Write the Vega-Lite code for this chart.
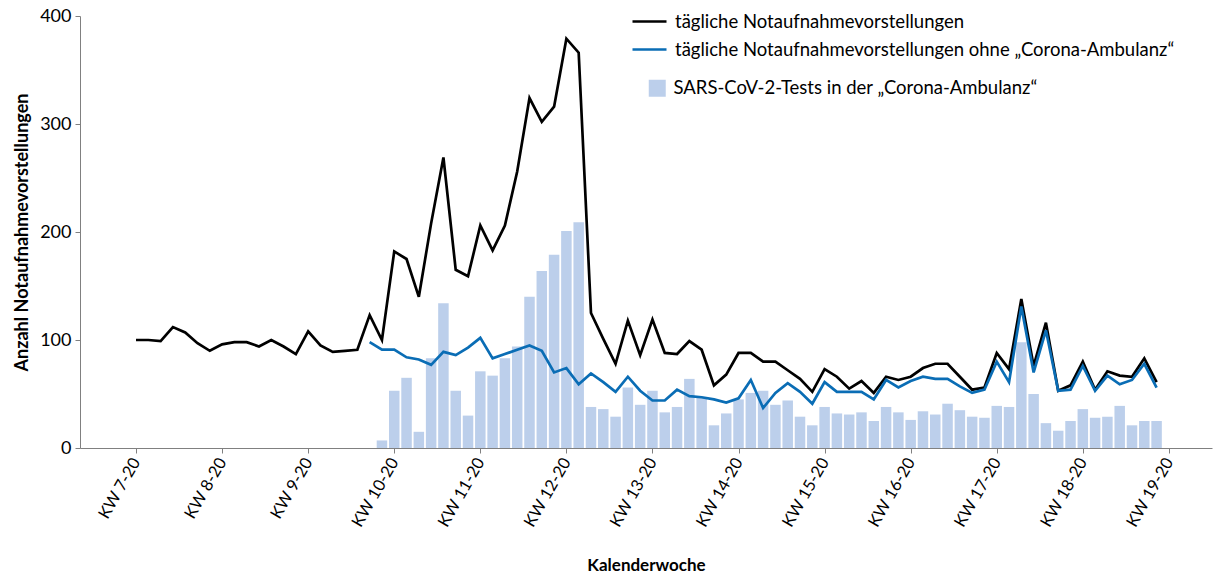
{
  "$schema": "https://vega.github.io/schema/vega-lite/v6.json",
  "width": 1132,
  "height": 432,
  "autosize": "none",
  "padding": {"left": 80, "top": 16, "right": 2, "bottom": 129},
  "config": {
    "view": {"stroke": null},
    "font": "Lato",
    "axis": {"domainColor": "#808080", "tickColor": "#808080", "labelColor": "#000", "titleColor": "#000", "grid": false}
  },
  "datasets": {
    "lines": [
      {"day":0,"serie":"tägliche Notaufnahmevorstellungen","n":100},
      {"day":1,"serie":"tägliche Notaufnahmevorstellungen","n":100},
      {"day":2,"serie":"tägliche Notaufnahmevorstellungen","n":99},
      {"day":3,"serie":"tägliche Notaufnahmevorstellungen","n":112},
      {"day":4,"serie":"tägliche Notaufnahmevorstellungen","n":107},
      {"day":5,"serie":"tägliche Notaufnahmevorstellungen","n":97},
      {"day":6,"serie":"tägliche Notaufnahmevorstellungen","n":90},
      {"day":7,"serie":"tägliche Notaufnahmevorstellungen","n":96},
      {"day":8,"serie":"tägliche Notaufnahmevorstellungen","n":98},
      {"day":9,"serie":"tägliche Notaufnahmevorstellungen","n":98},
      {"day":10,"serie":"tägliche Notaufnahmevorstellungen","n":94},
      {"day":11,"serie":"tägliche Notaufnahmevorstellungen","n":100},
      {"day":12,"serie":"tägliche Notaufnahmevorstellungen","n":94},
      {"day":13,"serie":"tägliche Notaufnahmevorstellungen","n":87},
      {"day":14,"serie":"tägliche Notaufnahmevorstellungen","n":108},
      {"day":15,"serie":"tägliche Notaufnahmevorstellungen","n":95},
      {"day":16,"serie":"tägliche Notaufnahmevorstellungen","n":89},
      {"day":17,"serie":"tägliche Notaufnahmevorstellungen","n":90},
      {"day":18,"serie":"tägliche Notaufnahmevorstellungen","n":91},
      {"day":19,"serie":"tägliche Notaufnahmevorstellungen","n":123},
      {"day":20,"serie":"tägliche Notaufnahmevorstellungen","n":100},
      {"day":21,"serie":"tägliche Notaufnahmevorstellungen","n":182},
      {"day":22,"serie":"tägliche Notaufnahmevorstellungen","n":175},
      {"day":23,"serie":"tägliche Notaufnahmevorstellungen","n":140},
      {"day":24,"serie":"tägliche Notaufnahmevorstellungen","n":208},
      {"day":25,"serie":"tägliche Notaufnahmevorstellungen","n":269},
      {"day":26,"serie":"tägliche Notaufnahmevorstellungen","n":165},
      {"day":27,"serie":"tägliche Notaufnahmevorstellungen","n":159},
      {"day":28,"serie":"tägliche Notaufnahmevorstellungen","n":206},
      {"day":29,"serie":"tägliche Notaufnahmevorstellungen","n":183},
      {"day":30,"serie":"tägliche Notaufnahmevorstellungen","n":206},
      {"day":31,"serie":"tägliche Notaufnahmevorstellungen","n":256},
      {"day":32,"serie":"tägliche Notaufnahmevorstellungen","n":324},
      {"day":33,"serie":"tägliche Notaufnahmevorstellungen","n":302},
      {"day":34,"serie":"tägliche Notaufnahmevorstellungen","n":316},
      {"day":35,"serie":"tägliche Notaufnahmevorstellungen","n":379},
      {"day":36,"serie":"tägliche Notaufnahmevorstellungen","n":366},
      {"day":37,"serie":"tägliche Notaufnahmevorstellungen","n":125},
      {"day":38,"serie":"tägliche Notaufnahmevorstellungen","n":101},
      {"day":39,"serie":"tägliche Notaufnahmevorstellungen","n":78},
      {"day":40,"serie":"tägliche Notaufnahmevorstellungen","n":118},
      {"day":41,"serie":"tägliche Notaufnahmevorstellungen","n":86},
      {"day":42,"serie":"tägliche Notaufnahmevorstellungen","n":119},
      {"day":43,"serie":"tägliche Notaufnahmevorstellungen","n":88},
      {"day":44,"serie":"tägliche Notaufnahmevorstellungen","n":87},
      {"day":45,"serie":"tägliche Notaufnahmevorstellungen","n":99},
      {"day":46,"serie":"tägliche Notaufnahmevorstellungen","n":91},
      {"day":47,"serie":"tägliche Notaufnahmevorstellungen","n":58},
      {"day":48,"serie":"tägliche Notaufnahmevorstellungen","n":68},
      {"day":49,"serie":"tägliche Notaufnahmevorstellungen","n":88},
      {"day":50,"serie":"tägliche Notaufnahmevorstellungen","n":88},
      {"day":51,"serie":"tägliche Notaufnahmevorstellungen","n":80},
      {"day":52,"serie":"tägliche Notaufnahmevorstellungen","n":80},
      {"day":53,"serie":"tägliche Notaufnahmevorstellungen","n":72},
      {"day":54,"serie":"tägliche Notaufnahmevorstellungen","n":64},
      {"day":55,"serie":"tägliche Notaufnahmevorstellungen","n":52},
      {"day":56,"serie":"tägliche Notaufnahmevorstellungen","n":73},
      {"day":57,"serie":"tägliche Notaufnahmevorstellungen","n":66},
      {"day":58,"serie":"tägliche Notaufnahmevorstellungen","n":55},
      {"day":59,"serie":"tägliche Notaufnahmevorstellungen","n":62},
      {"day":60,"serie":"tägliche Notaufnahmevorstellungen","n":51},
      {"day":61,"serie":"tägliche Notaufnahmevorstellungen","n":66},
      {"day":62,"serie":"tägliche Notaufnahmevorstellungen","n":63},
      {"day":63,"serie":"tägliche Notaufnahmevorstellungen","n":66},
      {"day":64,"serie":"tägliche Notaufnahmevorstellungen","n":74},
      {"day":65,"serie":"tägliche Notaufnahmevorstellungen","n":78},
      {"day":66,"serie":"tägliche Notaufnahmevorstellungen","n":78},
      {"day":67,"serie":"tägliche Notaufnahmevorstellungen","n":66},
      {"day":68,"serie":"tägliche Notaufnahmevorstellungen","n":54},
      {"day":69,"serie":"tägliche Notaufnahmevorstellungen","n":56},
      {"day":70,"serie":"tägliche Notaufnahmevorstellungen","n":88},
      {"day":71,"serie":"tägliche Notaufnahmevorstellungen","n":73},
      {"day":72,"serie":"tägliche Notaufnahmevorstellungen","n":138},
      {"day":73,"serie":"tägliche Notaufnahmevorstellungen","n":76},
      {"day":74,"serie":"tägliche Notaufnahmevorstellungen","n":116},
      {"day":75,"serie":"tägliche Notaufnahmevorstellungen","n":53},
      {"day":76,"serie":"tägliche Notaufnahmevorstellungen","n":58},
      {"day":77,"serie":"tägliche Notaufnahmevorstellungen","n":80},
      {"day":78,"serie":"tägliche Notaufnahmevorstellungen","n":54},
      {"day":79,"serie":"tägliche Notaufnahmevorstellungen","n":71},
      {"day":80,"serie":"tägliche Notaufnahmevorstellungen","n":67},
      {"day":81,"serie":"tägliche Notaufnahmevorstellungen","n":66},
      {"day":82,"serie":"tägliche Notaufnahmevorstellungen","n":83},
      {"day":83,"serie":"tägliche Notaufnahmevorstellungen","n":61},
      {"day":19,"serie":"tägliche Notaufnahmevorstellungen ohne „Corona-Ambulanz“","n":98},
      {"day":20,"serie":"tägliche Notaufnahmevorstellungen ohne „Corona-Ambulanz“","n":91},
      {"day":21,"serie":"tägliche Notaufnahmevorstellungen ohne „Corona-Ambulanz“","n":91},
      {"day":22,"serie":"tägliche Notaufnahmevorstellungen ohne „Corona-Ambulanz“","n":84},
      {"day":23,"serie":"tägliche Notaufnahmevorstellungen ohne „Corona-Ambulanz“","n":82},
      {"day":24,"serie":"tägliche Notaufnahmevorstellungen ohne „Corona-Ambulanz“","n":77},
      {"day":25,"serie":"tägliche Notaufnahmevorstellungen ohne „Corona-Ambulanz“","n":89},
      {"day":26,"serie":"tägliche Notaufnahmevorstellungen ohne „Corona-Ambulanz“","n":86},
      {"day":27,"serie":"tägliche Notaufnahmevorstellungen ohne „Corona-Ambulanz“","n":93},
      {"day":28,"serie":"tägliche Notaufnahmevorstellungen ohne „Corona-Ambulanz“","n":102},
      {"day":29,"serie":"tägliche Notaufnahmevorstellungen ohne „Corona-Ambulanz“","n":83},
      {"day":30,"serie":"tägliche Notaufnahmevorstellungen ohne „Corona-Ambulanz“","n":87},
      {"day":31,"serie":"tägliche Notaufnahmevorstellungen ohne „Corona-Ambulanz“","n":91},
      {"day":32,"serie":"tägliche Notaufnahmevorstellungen ohne „Corona-Ambulanz“","n":95},
      {"day":33,"serie":"tägliche Notaufnahmevorstellungen ohne „Corona-Ambulanz“","n":90},
      {"day":34,"serie":"tägliche Notaufnahmevorstellungen ohne „Corona-Ambulanz“","n":70},
      {"day":35,"serie":"tägliche Notaufnahmevorstellungen ohne „Corona-Ambulanz“","n":74},
      {"day":36,"serie":"tägliche Notaufnahmevorstellungen ohne „Corona-Ambulanz“","n":59},
      {"day":37,"serie":"tägliche Notaufnahmevorstellungen ohne „Corona-Ambulanz“","n":69},
      {"day":38,"serie":"tägliche Notaufnahmevorstellungen ohne „Corona-Ambulanz“","n":61},
      {"day":39,"serie":"tägliche Notaufnahmevorstellungen ohne „Corona-Ambulanz“","n":52},
      {"day":40,"serie":"tägliche Notaufnahmevorstellungen ohne „Corona-Ambulanz“","n":66},
      {"day":41,"serie":"tägliche Notaufnahmevorstellungen ohne „Corona-Ambulanz“","n":53},
      {"day":42,"serie":"tägliche Notaufnahmevorstellungen ohne „Corona-Ambulanz“","n":44},
      {"day":43,"serie":"tägliche Notaufnahmevorstellungen ohne „Corona-Ambulanz“","n":44},
      {"day":44,"serie":"tägliche Notaufnahmevorstellungen ohne „Corona-Ambulanz“","n":54},
      {"day":45,"serie":"tägliche Notaufnahmevorstellungen ohne „Corona-Ambulanz“","n":48},
      {"day":46,"serie":"tägliche Notaufnahmevorstellungen ohne „Corona-Ambulanz“","n":47},
      {"day":47,"serie":"tägliche Notaufnahmevorstellungen ohne „Corona-Ambulanz“","n":45},
      {"day":48,"serie":"tägliche Notaufnahmevorstellungen ohne „Corona-Ambulanz“","n":42},
      {"day":49,"serie":"tägliche Notaufnahmevorstellungen ohne „Corona-Ambulanz“","n":46},
      {"day":50,"serie":"tägliche Notaufnahmevorstellungen ohne „Corona-Ambulanz“","n":63},
      {"day":51,"serie":"tägliche Notaufnahmevorstellungen ohne „Corona-Ambulanz“","n":37},
      {"day":52,"serie":"tägliche Notaufnahmevorstellungen ohne „Corona-Ambulanz“","n":51},
      {"day":53,"serie":"tägliche Notaufnahmevorstellungen ohne „Corona-Ambulanz“","n":60},
      {"day":54,"serie":"tägliche Notaufnahmevorstellungen ohne „Corona-Ambulanz“","n":52},
      {"day":55,"serie":"tägliche Notaufnahmevorstellungen ohne „Corona-Ambulanz“","n":41},
      {"day":56,"serie":"tägliche Notaufnahmevorstellungen ohne „Corona-Ambulanz“","n":61},
      {"day":57,"serie":"tägliche Notaufnahmevorstellungen ohne „Corona-Ambulanz“","n":52},
      {"day":58,"serie":"tägliche Notaufnahmevorstellungen ohne „Corona-Ambulanz“","n":52},
      {"day":59,"serie":"tägliche Notaufnahmevorstellungen ohne „Corona-Ambulanz“","n":52},
      {"day":60,"serie":"tägliche Notaufnahmevorstellungen ohne „Corona-Ambulanz“","n":45},
      {"day":61,"serie":"tägliche Notaufnahmevorstellungen ohne „Corona-Ambulanz“","n":63},
      {"day":62,"serie":"tägliche Notaufnahmevorstellungen ohne „Corona-Ambulanz“","n":56},
      {"day":63,"serie":"tägliche Notaufnahmevorstellungen ohne „Corona-Ambulanz“","n":62},
      {"day":64,"serie":"tägliche Notaufnahmevorstellungen ohne „Corona-Ambulanz“","n":66},
      {"day":65,"serie":"tägliche Notaufnahmevorstellungen ohne „Corona-Ambulanz“","n":64},
      {"day":66,"serie":"tägliche Notaufnahmevorstellungen ohne „Corona-Ambulanz“","n":64},
      {"day":67,"serie":"tägliche Notaufnahmevorstellungen ohne „Corona-Ambulanz“","n":57},
      {"day":68,"serie":"tägliche Notaufnahmevorstellungen ohne „Corona-Ambulanz“","n":51},
      {"day":69,"serie":"tägliche Notaufnahmevorstellungen ohne „Corona-Ambulanz“","n":54},
      {"day":70,"serie":"tägliche Notaufnahmevorstellungen ohne „Corona-Ambulanz“","n":80},
      {"day":71,"serie":"tägliche Notaufnahmevorstellungen ohne „Corona-Ambulanz“","n":61},
      {"day":72,"serie":"tägliche Notaufnahmevorstellungen ohne „Corona-Ambulanz“","n":131},
      {"day":73,"serie":"tägliche Notaufnahmevorstellungen ohne „Corona-Ambulanz“","n":70},
      {"day":74,"serie":"tägliche Notaufnahmevorstellungen ohne „Corona-Ambulanz“","n":109},
      {"day":75,"serie":"tägliche Notaufnahmevorstellungen ohne „Corona-Ambulanz“","n":53},
      {"day":76,"serie":"tägliche Notaufnahmevorstellungen ohne „Corona-Ambulanz“","n":54},
      {"day":77,"serie":"tägliche Notaufnahmevorstellungen ohne „Corona-Ambulanz“","n":76},
      {"day":78,"serie":"tägliche Notaufnahmevorstellungen ohne „Corona-Ambulanz“","n":53},
      {"day":79,"serie":"tägliche Notaufnahmevorstellungen ohne „Corona-Ambulanz“","n":67},
      {"day":80,"serie":"tägliche Notaufnahmevorstellungen ohne „Corona-Ambulanz“","n":59},
      {"day":81,"serie":"tägliche Notaufnahmevorstellungen ohne „Corona-Ambulanz“","n":63},
      {"day":82,"serie":"tägliche Notaufnahmevorstellungen ohne „Corona-Ambulanz“","n":78},
      {"day":83,"serie":"tägliche Notaufnahmevorstellungen ohne „Corona-Ambulanz“","n":56}
    ],
    "tests": [
      {"day":20,"serie":"SARS-CoV-2-Tests in der „Corona-Ambulanz“","n":7},
      {"day":21,"serie":"SARS-CoV-2-Tests in der „Corona-Ambulanz“","n":53},
      {"day":22,"serie":"SARS-CoV-2-Tests in der „Corona-Ambulanz“","n":65},
      {"day":23,"serie":"SARS-CoV-2-Tests in der „Corona-Ambulanz“","n":15},
      {"day":24,"serie":"SARS-CoV-2-Tests in der „Corona-Ambulanz“","n":83},
      {"day":25,"serie":"SARS-CoV-2-Tests in der „Corona-Ambulanz“","n":134},
      {"day":26,"serie":"SARS-CoV-2-Tests in der „Corona-Ambulanz“","n":53},
      {"day":27,"serie":"SARS-CoV-2-Tests in der „Corona-Ambulanz“","n":30},
      {"day":28,"serie":"SARS-CoV-2-Tests in der „Corona-Ambulanz“","n":71},
      {"day":29,"serie":"SARS-CoV-2-Tests in der „Corona-Ambulanz“","n":67},
      {"day":30,"serie":"SARS-CoV-2-Tests in der „Corona-Ambulanz“","n":83},
      {"day":31,"serie":"SARS-CoV-2-Tests in der „Corona-Ambulanz“","n":94},
      {"day":32,"serie":"SARS-CoV-2-Tests in der „Corona-Ambulanz“","n":140},
      {"day":33,"serie":"SARS-CoV-2-Tests in der „Corona-Ambulanz“","n":164},
      {"day":34,"serie":"SARS-CoV-2-Tests in der „Corona-Ambulanz“","n":179},
      {"day":35,"serie":"SARS-CoV-2-Tests in der „Corona-Ambulanz“","n":201},
      {"day":36,"serie":"SARS-CoV-2-Tests in der „Corona-Ambulanz“","n":209},
      {"day":37,"serie":"SARS-CoV-2-Tests in der „Corona-Ambulanz“","n":38},
      {"day":38,"serie":"SARS-CoV-2-Tests in der „Corona-Ambulanz“","n":36},
      {"day":39,"serie":"SARS-CoV-2-Tests in der „Corona-Ambulanz“","n":29},
      {"day":40,"serie":"SARS-CoV-2-Tests in der „Corona-Ambulanz“","n":56},
      {"day":41,"serie":"SARS-CoV-2-Tests in der „Corona-Ambulanz“","n":40},
      {"day":42,"serie":"SARS-CoV-2-Tests in der „Corona-Ambulanz“","n":53},
      {"day":43,"serie":"SARS-CoV-2-Tests in der „Corona-Ambulanz“","n":33},
      {"day":44,"serie":"SARS-CoV-2-Tests in der „Corona-Ambulanz“","n":38},
      {"day":45,"serie":"SARS-CoV-2-Tests in der „Corona-Ambulanz“","n":64},
      {"day":46,"serie":"SARS-CoV-2-Tests in der „Corona-Ambulanz“","n":47},
      {"day":47,"serie":"SARS-CoV-2-Tests in der „Corona-Ambulanz“","n":21},
      {"day":48,"serie":"SARS-CoV-2-Tests in der „Corona-Ambulanz“","n":32},
      {"day":49,"serie":"SARS-CoV-2-Tests in der „Corona-Ambulanz“","n":45},
      {"day":50,"serie":"SARS-CoV-2-Tests in der „Corona-Ambulanz“","n":51},
      {"day":51,"serie":"SARS-CoV-2-Tests in der „Corona-Ambulanz“","n":53},
      {"day":52,"serie":"SARS-CoV-2-Tests in der „Corona-Ambulanz“","n":40},
      {"day":53,"serie":"SARS-CoV-2-Tests in der „Corona-Ambulanz“","n":44},
      {"day":54,"serie":"SARS-CoV-2-Tests in der „Corona-Ambulanz“","n":29},
      {"day":55,"serie":"SARS-CoV-2-Tests in der „Corona-Ambulanz“","n":21},
      {"day":56,"serie":"SARS-CoV-2-Tests in der „Corona-Ambulanz“","n":38},
      {"day":57,"serie":"SARS-CoV-2-Tests in der „Corona-Ambulanz“","n":32},
      {"day":58,"serie":"SARS-CoV-2-Tests in der „Corona-Ambulanz“","n":31},
      {"day":59,"serie":"SARS-CoV-2-Tests in der „Corona-Ambulanz“","n":33},
      {"day":60,"serie":"SARS-CoV-2-Tests in der „Corona-Ambulanz“","n":25},
      {"day":61,"serie":"SARS-CoV-2-Tests in der „Corona-Ambulanz“","n":38},
      {"day":62,"serie":"SARS-CoV-2-Tests in der „Corona-Ambulanz“","n":33},
      {"day":63,"serie":"SARS-CoV-2-Tests in der „Corona-Ambulanz“","n":26},
      {"day":64,"serie":"SARS-CoV-2-Tests in der „Corona-Ambulanz“","n":34},
      {"day":65,"serie":"SARS-CoV-2-Tests in der „Corona-Ambulanz“","n":31},
      {"day":66,"serie":"SARS-CoV-2-Tests in der „Corona-Ambulanz“","n":41},
      {"day":67,"serie":"SARS-CoV-2-Tests in der „Corona-Ambulanz“","n":35},
      {"day":68,"serie":"SARS-CoV-2-Tests in der „Corona-Ambulanz“","n":29},
      {"day":69,"serie":"SARS-CoV-2-Tests in der „Corona-Ambulanz“","n":28},
      {"day":70,"serie":"SARS-CoV-2-Tests in der „Corona-Ambulanz“","n":39},
      {"day":71,"serie":"SARS-CoV-2-Tests in der „Corona-Ambulanz“","n":38},
      {"day":72,"serie":"SARS-CoV-2-Tests in der „Corona-Ambulanz“","n":98},
      {"day":73,"serie":"SARS-CoV-2-Tests in der „Corona-Ambulanz“","n":50},
      {"day":74,"serie":"SARS-CoV-2-Tests in der „Corona-Ambulanz“","n":23},
      {"day":75,"serie":"SARS-CoV-2-Tests in der „Corona-Ambulanz“","n":16},
      {"day":76,"serie":"SARS-CoV-2-Tests in der „Corona-Ambulanz“","n":25},
      {"day":77,"serie":"SARS-CoV-2-Tests in der „Corona-Ambulanz“","n":36},
      {"day":78,"serie":"SARS-CoV-2-Tests in der „Corona-Ambulanz“","n":28},
      {"day":79,"serie":"SARS-CoV-2-Tests in der „Corona-Ambulanz“","n":29},
      {"day":80,"serie":"SARS-CoV-2-Tests in der „Corona-Ambulanz“","n":39},
      {"day":81,"serie":"SARS-CoV-2-Tests in der „Corona-Ambulanz“","n":21},
      {"day":82,"serie":"SARS-CoV-2-Tests in der „Corona-Ambulanz“","n":25},
      {"day":83,"serie":"SARS-CoV-2-Tests in der „Corona-Ambulanz“","n":25}
    ]
  },
  "encoding": {
    "x": {
      "field": "day", "type": "quantitative",
      "scale": {"domain": [-4.15, 87.1], "nice": false, "zero": false},
      "axis": {
        "values": [0,7,14,21,28,35,42,49,56,63,70,77,84],
        "labelExpr": "'KW ' + (datum.value/7 + 7) + '-20'",
        "labelAngle": -60, "labelFontSize": 16.5, "labelPadding": 6, "tickSize": 5,
        "title": "Kalenderwoche", "titleFontSize": 17, "titleFontWeight": "bold",
        "titleY": 117, "titleBaseline": "middle"
      }
    },
    "y": {
      "field": "n", "type": "quantitative",
      "scale": {"domain": [0, 400], "nice": false},
      "axis": {
        "values": [0,100,200,300,400],
        "labelFontSize": 18, "labelPadding": 4, "tickSize": 5,
        "title": "Anzahl Notaufnahmevorstellungen", "titleFontSize": 18, "titleFontWeight": "bold",
        "titleX": -58, "titleY": 216, "titleAngle": -90, "titleAlign": "center", "titleBaseline": "middle"
      }
    }
  },
  "layer": [
    {
      "data": {"name": "tests"},
      "mark": {"type": "bar", "size": 10.5},
      "encoding": {
        "fill": {
          "field": "serie", "type": "nominal",
          "scale": {"range": ["#bccfeb"]},
          "legend": {
            "title": null, "orient": "none", "legendX": 568, "legendY": 63,
            "symbolType": "square", "symbolSize": 289, "symbolStrokeWidth": 0,
            "labelFontSize": 18.5, "labelOffset": 7, "labelLimit": 700, "padding": 0, "labelColor": "#000"
          }
        }
      }
    },
    {
      "data": {"name": "lines"},
      "mark": {"type": "line", "strokeWidth": 2.7},
      "encoding": {
        "color": {
          "field": "serie", "type": "nominal",
          "scale": {
            "domain": ["tägliche Notaufnahmevorstellungen", "tägliche Notaufnahmevorstellungen ohne „Corona-Ambulanz“"],
            "range": ["#000000", "#0a6db5"]
          },
          "legend": {
            "title": null, "orient": "none", "legendX": 551, "legendY": -13,
            "symbolType": "stroke", "symbolSize": 1156, "symbolStrokeWidth": 2.6,
            "labelFontSize": 18.5, "labelOffset": 7, "labelLimit": 700, "padding": 0, "rowPadding": 0, "labelColor": "#000"
          }
        }
      }
    }
  ]
}
